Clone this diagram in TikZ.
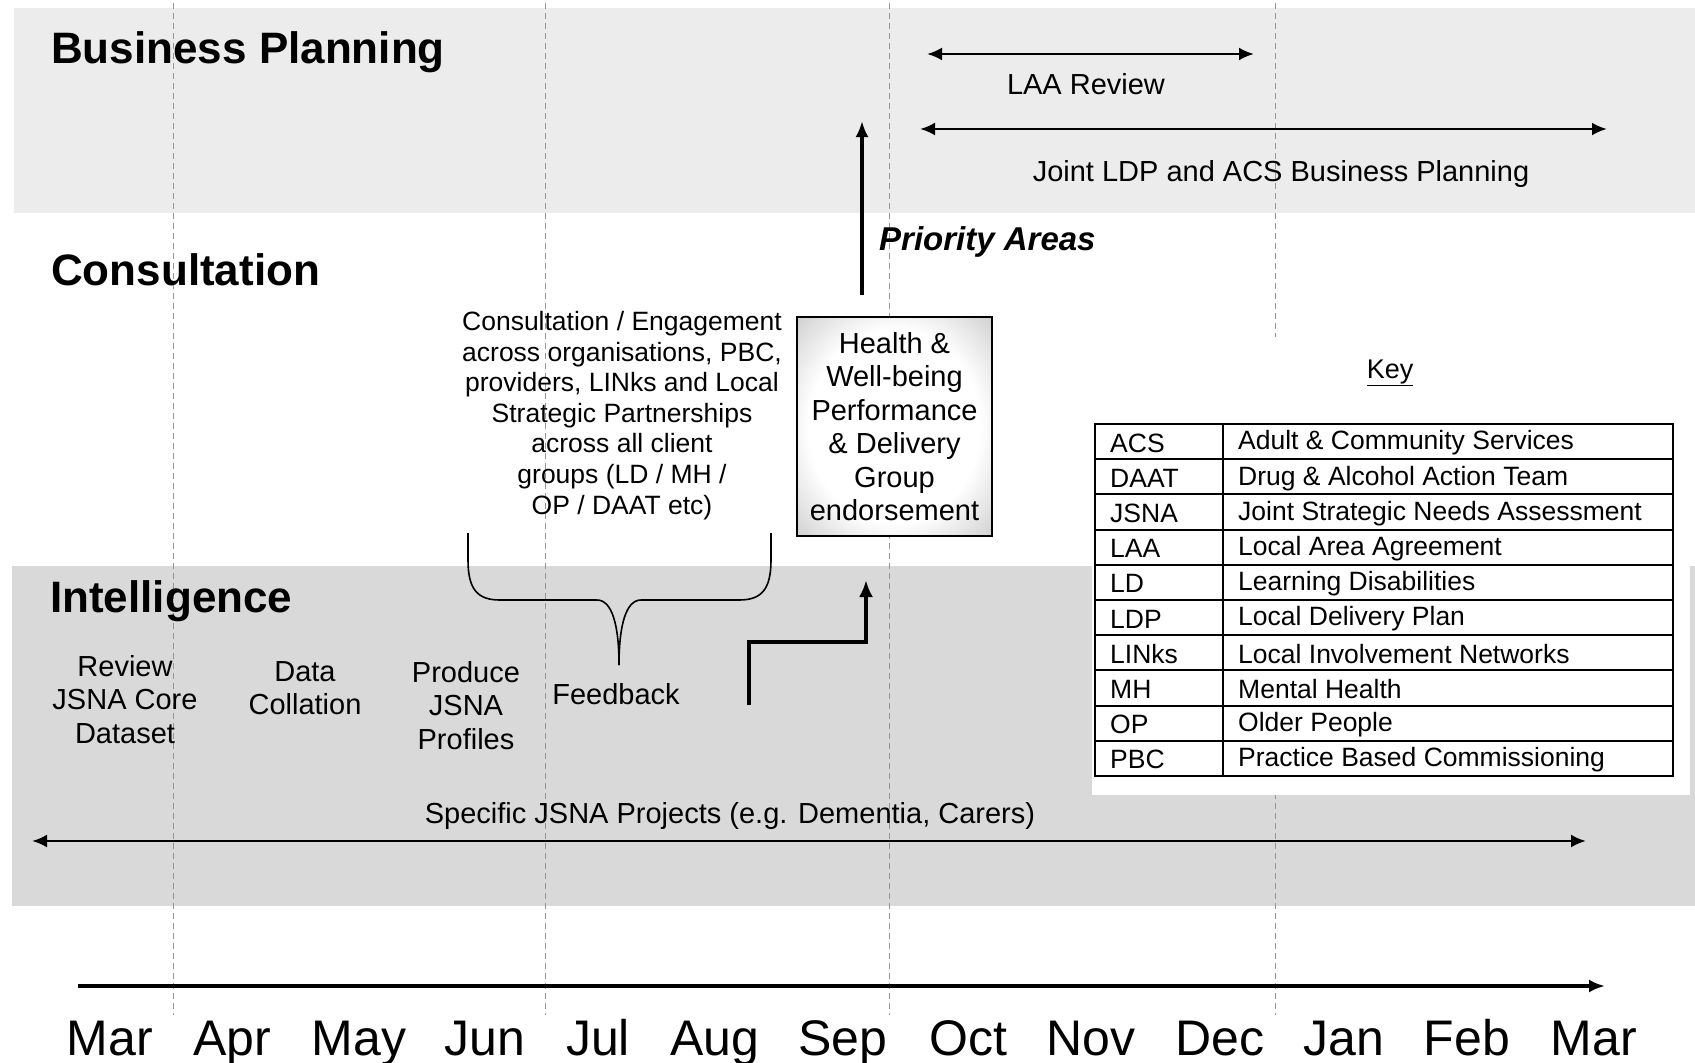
\documentclass[tikz,border=0pt]{standalone}
\usepackage{fontspec}
\setmainfont{Liberation Sans}
\usetikzlibrary{arrows.meta}

\definecolor{planband}{RGB}{236,236,236}
\definecolor{intelband}{RGB}{217,217,217}
\definecolor{monthline}{RGB}{150,150,150}

% soft white-centred fill for the endorsement box
\pgfdeclareradialshading{hwshade}{\pgfpoint{0bp}{0bp}}{%
  color(0bp)=(white); color(22bp)=(white); color(50bp)=(black!38); color(72bp)=(black!55)}

\tikzset{
  header/.style={font=\fontsize{44}{44}\selectfont\bfseries, anchor=base west, inner sep=0pt},
  lbl/.style={font=\fontsize{29}{33.6}\selectfont, align=center, inner sep=0pt},
  smalllbl/.style={font=\fontsize{26.5}{30.6}\selectfont, align=center, inner sep=0pt},
  keytext/.style={font=\fontsize{26.5}{30}\selectfont, anchor=west, inner sep=0pt},
  monthlab/.style={font=\fontsize{50}{50}\selectfont, anchor=base, inner sep=0pt},
  monthrule/.style={monthline, line width=0.9pt, dash pattern=on 6pt off 4pt},
  span/.style={{Latex[length=15pt,width=13pt]}-{Latex[length=15pt,width=13pt]}, line width=2.6pt},
  flow/.style={-{Latex[length=16pt,width=13pt]}, line width=3.6pt},
  hwbox/.style={draw, line width=1.6pt, minimum width=195pt, minimum height=219pt,
    inner sep=0pt, shading=hwshade, font=\fontsize{29}{33.5}\selectfont, align=center},
}

\begin{document}
\begin{tikzpicture}[x=1pt,y=-1pt]
  \useasboundingbox (0,0) rectangle (1695,1063);
  \fill[white] (0,0) rectangle (1695,1063);

  % swim-lane bands
  \fill[planband] (14,8) rectangle (1695,213);
  \fill[intelband] (12,566) rectangle (1695,906);

  % quarter markers
  \foreach \mx in {173,545,889,1275}
    \draw[monthrule] (\mx,3) -- (\mx,1015);

  % lane headings
  \node[header] (hplan) at (51,63) {Business Planning};
  \node[header] (hcons) at (51,285) {Consultation};
  \node[header] (hintel) at (50,612) {Intelligence};

  % business planning activities
  \coordinate (laaL) at (927,54);
  \coordinate (laaR) at (1254,54);
  \draw[span] (laaL) -- (laaR);
  \node[lbl, anchor=base] (laa) at (1086,94) {LAA Review};
  \coordinate (ldpL) at (920,129);
  \coordinate (ldpR) at (1607,129);
  \draw[span] (ldpL) -- (ldpR);
  \node[lbl, anchor=base] (ldp) at (1281,181) {Joint LDP and ACS Business Planning};

  % key (white panel over the lanes)
  \fill[white] (1092,337) rectangle (1690,795);
  \node[font=\fontsize{27}{30}\selectfont, anchor=base, inner sep=0pt] (keyhead) at (1390,378) {\underline{Key}};
  \draw[line width=2pt] (1095,424) rectangle (1673,776);
  \draw[line width=2pt] (1223,424) -- (1223,776);
  \foreach \i in {1,...,9}
    \draw[line width=2pt] (1095,424+35.2*\i) -- (1673,424+35.2*\i);
  \foreach \ab/\desc [count=\i from 0] in {
      ACS/Adult \& Community Services,
      DAAT/Drug \& Alcohol Action Team,
      JSNA/Joint Strategic Needs Assessment,
      LAA/Local Area Agreement,
      LD/Learning Disabilities,
      LDP/Local Delivery Plan,
      LINks/Local Involvement Networks,
      MH/Mental Health,
      OP/Older People,
      PBC/Practice Based Commissioning} {
    \node[keytext] (ab\i) at (1110,424+35.2*\i+19) {\ab};
    \node[keytext] (desc\i) at (1238,424+35.2*\i+19) {\desc};
  }

  % consultation
  \node[smalllbl, anchor=north] (consult) at (622,311)
    {Consultation / Engagement\\across organisations, PBC,\\providers, LINks and Local\\Strategic Partnerships\\across all client\\groups (LD / MH /\\OP / DAAT etc)};
  \node[hwbox] (hwb) at (894.5,426.5)
    {Health \&\\Well-being\\Performance\\\& Delivery\\Group\\endorsement};

  % brace gathering the consultation into feedback
  \draw[line width=1.6pt]
    (468,533) -- (468,560) .. controls (468,590) and (478,600) .. (500,600)
    -- (597,600) .. controls (612,600) and (619,625) .. (619,665);
  \draw[line width=1.6pt]
    (771,533) -- (771,560) .. controls (771,590) and (761,600) .. (739,600)
    -- (641,600) .. controls (626,600) and (619,625) .. (619,665);

  % priority areas flowing up to business planning
  \coordinate (prioBot) at (862,295);
  \coordinate (prioTop) at (862,121);
  \draw[flow] (prioBot) -- (prioTop);
  \node[font=\fontsize{33}{33}\selectfont\bfseries\itshape, anchor=base west, inner sep=0pt]
    (prio) at (879,250) {Priority Areas};

  % intelligence activities
  \node[lbl, anchor=north] (review) at (125,655) {Review\\JSNA Core\\Dataset};
  \node[lbl, anchor=north] (collate) at (305,661) {Data\\Collation};
  \node[lbl, anchor=north] (profiles) at (466,661) {Produce\\JSNA\\Profiles};
  \node[lbl, anchor=base] (feedback) at (616,704) {Feedback};

  \coordinate (stepA) at (749,705);
  \coordinate (stepB) at (866,580);
  \draw[-{Latex[length=17pt,width=14pt]}, line width=4.4pt]
    (stepA) -- (749,642) -- (866,642) -- (stepB);

  \node[lbl, anchor=base] (projects) at (730,823) {Specific JSNA Projects (e.g. Dementia, Carers)};
  \coordinate (projL) at (32,841);
  \coordinate (projR) at (1586,841);
  \draw[span] (projL) -- (projR);

  % timeline
  \coordinate (tlL) at (78,986);
  \coordinate (tlR) at (1605,986);
  \draw[flow] (tlL) -- (tlR);
  \foreach \m/\cx [count=\k] in {Mar/110,Apr/232,May/359,Jun/485,Jul/598,Aug/715,Sep/843,
      Oct/968,Nov/1091,Dec/1220,Jan/1344,Feb/1467,Mar/1594}
    \node[monthlab] (month\k) at (\cx,1055) {\m};
\end{tikzpicture}
\end{document}
